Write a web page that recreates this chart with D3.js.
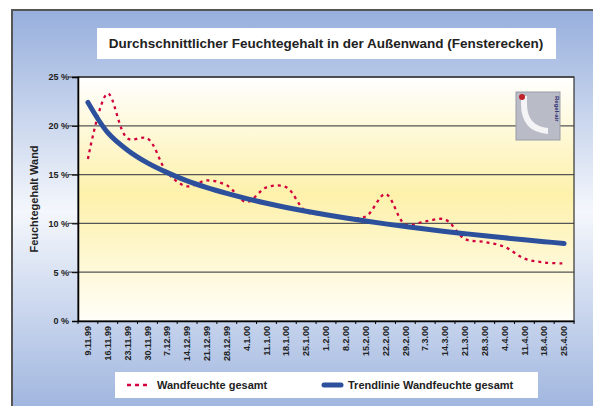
<!DOCTYPE html>
<html><head><meta charset="utf-8">
<script src="https://cdn.jsdelivr.net/npm/d3@7"></script>
<style>body{margin:0;background:#fff}svg{display:block;font-family:"Liberation Sans",Arial,sans-serif}</style>
</head><body>
<svg id="c" width="593" height="406"></svg>
<script>
const categories = ["9.11.99","16.11.99","23.11.99","30.11.99","7.12.99","14.12.99","21.12.99","28.12.99","4.1.00","11.1.00","18.1.00","25.1.00","1.2.00","8.2.00","15.2.00","22.2.00","29.2.00","7.3.00","14.3.00","21.3.00","28.3.00","4.4.00","11.4.00","18.4.00","25.4.00"];
const wandfeuchte = [16.6,23.3,18.7,18.7,15.2,13.8,14.4,13.9,12.2,13.7,13.7,11.2,10.9,10.6,10.7,13.0,9.9,10.2,10.4,8.4,8.1,7.6,6.4,6.0,5.9];
const trend = [22.4,19.3,17.5,16.2,15.2,14.35,13.66,13.07,12.54,12.06,11.63,11.24,10.88,10.55,10.24,9.95,9.68,9.42,9.18,8.95,8.73,8.52,8.32,8.13,7.95];
const yTicks = [0,5,10,15,20,25];
const title = "Durchschnittlicher Feuchtegehalt in der Außenwand (Fensterecken)";
const yTitle = "Feuchtegehalt Wand";
const seriesNames = ["Wandfeuchte gesamt","Trendlinie Wandfeuchte gesamt"];

const svg = d3.select("#c");
const defs = svg.append("defs");
const g1 = defs.append("linearGradient").attr("id","bg").attr("x1",0).attr("y1",0).attr("x2",0).attr("y2",1);
g1.append("stop").attr("offset","0%").attr("stop-color","#97afdc");
g1.append("stop").attr("offset","48%").attr("stop-color","#f4f7fc");
g1.append("stop").attr("offset","100%").attr("stop-color","#97afdc");
const g2 = defs.append("linearGradient").attr("id","pl").attr("x1",0).attr("y1",0).attr("x2",0).attr("y2",1);
g2.append("stop").attr("offset","0%").attr("stop-color","#ffffff");
g2.append("stop").attr("offset","48%").attr("stop-color","#fdf1ab");
g2.append("stop").attr("offset","100%").attr("stop-color","#fffef8");

// panel
svg.append("rect").attr("x",12).attr("y",10).attr("width",600).attr("height",420).attr("fill","url(#bg)").attr("stroke","#555").attr("stroke-width",2);

const L=78,R=574,T=77,B=321;
const x = d3.scaleBand().domain(categories).range([L,R]);
const y = d3.scaleLinear().domain([0,25]).range([B,T]);

svg.append("rect").attr("x",L).attr("y",T).attr("width",R-L).attr("height",B-T).attr("fill","url(#pl)");

// grid lines
svg.append("g").selectAll("line").data(yTicks.filter(d=>d>0)).join("line")
  .attr("x1",68).attr("x2",R).attr("y1",d=>y(d)).attr("y2",d=>y(d))
  .attr("stroke","#555").attr("stroke-width",1.3);

// plot border
svg.append("rect").attr("x",L).attr("y",T).attr("width",R-L).attr("height",B-T).attr("fill","none").attr("stroke","#333").attr("stroke-width",1.2);

// y axis
const ya = svg.append("g").attr("transform",`translate(${L},0)`)
  .call(d3.axisLeft(y).tickValues(yTicks).tickFormat(d=>d+" %").tickSize(6).tickPadding(3));
ya.select(".domain").attr("stroke","#000").attr("stroke-width",1.5);
ya.selectAll(".tick line").attr("stroke","#000");
ya.selectAll("text").attr("font-size",9).attr("font-weight","bold").attr("fill","#222");

// x axis
const xa = svg.append("g").attr("transform",`translate(0,${B})`)
  .call(d3.axisBottom(x).tickSize(0).tickPadding(0));
xa.select(".domain").attr("stroke","#000").attr("stroke-width",1.5);
xa.selectAll(".tick text").attr("transform","rotate(-90)").attr("text-anchor","end")
  .attr("x",-5).attr("y",0).attr("dy","0.35em").attr("font-size",9).attr("font-weight","bold").attr("fill","#222");
svg.append("g").selectAll("line").data(d3.range(categories.length+1)).join("line")
  .attr("x1",i=>L+i*x.step()).attr("x2",i=>L+i*x.step()).attr("y1",B).attr("y2",B+3)
  .attr("stroke","#000");

// y title
svg.append("text").attr("transform","translate(38,199) rotate(-90)").attr("text-anchor","middle")
  .attr("font-size",11).attr("font-weight","bold").attr("fill","#222").text(yTitle);

// lines
const cx = (d,i)=>x(categories[i])+x.bandwidth()/2;
svg.append("path").datum(wandfeuchte)
  .attr("d",d3.line().x(cx).y(d=>y(d)).curve(d3.curveCatmullRom.alpha(0.5)))
  .attr("fill","none").attr("stroke","#d2003c").attr("stroke-width",2.3).attr("stroke-dasharray","3,4");
svg.append("path").datum(trend)
  .attr("d",d3.line().x(cx).y(d=>y(d)).curve(d3.curveCatmullRom))
  .attr("fill","none").attr("stroke","#2c509c").attr("stroke-width",5).attr("stroke-linecap","round");

// logo
const lg = svg.append("g").attr("transform","translate(516,92)");
lg.append("rect").attr("width",44).attr("height",48).attr("fill","#b9bcc6").attr("stroke","#9a9ca6");
lg.append("path").attr("d","M5,4 L5,12 Q5,40 32,42 L32,36 Q11,34 11,12 L11,4 Z").attr("fill","#f4f4f6");
lg.append("circle").attr("cx",6).attr("cy",5).attr("r",3).attr("fill","#c0202a");
lg.append("text").attr("transform","translate(39,4) rotate(90)").attr("font-size",6).attr("font-weight","bold").attr("fill","#2a2a70").text("Regel-air");

// title
svg.append("rect").attr("x",97).attr("y",28).attr("width",459).attr("height",31).attr("fill","#fff");
svg.append("text").attr("x",326).attr("y",48).attr("text-anchor","middle").attr("font-size",13.5).attr("font-weight","bold").attr("fill","#222").text(title);

// legend
svg.append("rect").attr("x",115).attr("y",372).attr("width",423).attr("height",26).attr("fill","#fff");
svg.append("line").attr("x1",127).attr("x2",151).attr("y1",385).attr("y2",385).attr("stroke","#d2003c").attr("stroke-width",2.3).attr("stroke-dasharray","4,4");
svg.append("text").attr("x",157).attr("y",389).attr("font-size",11).attr("font-weight","bold").attr("fill","#222").text(seriesNames[0]);
svg.append("line").attr("x1",324).attr("x2",341).attr("y1",385).attr("y2",385).attr("stroke","#2c509c").attr("stroke-width",5).attr("stroke-linecap","round");
svg.append("text").attr("x",348).attr("y",389).attr("font-size",11).attr("font-weight","bold").attr("fill","#222").text(seriesNames[1]);
</script>
</body></html>
